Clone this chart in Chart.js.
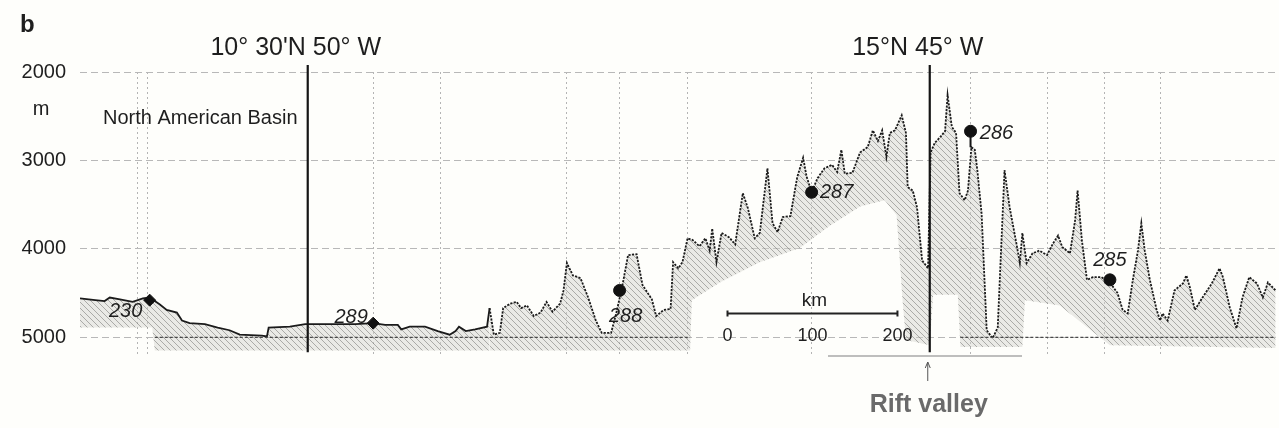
<!DOCTYPE html>
<html>
<head>
<meta charset="utf-8">
<script src="https://cdn.jsdelivr.net/npm/chart.js@4"></script>
<style>
  html, body { margin: 0; padding: 0; background: #fefefb; }
</style>
</head>
<body>
<canvas id="profileChart" width="1279" height="428"></canvas>
<script>
// bathymetric profile, distance along track (km) vs depth (m)
const distanceKm = [0, 18, 29, 35, 47, 62, 74, 82, 94, 102,
  114, 120, 129, 147, 162, 176, 188, 214, 220, 222,
  247, 265, 294, 324, 345, 359, 374, 378, 388, 406,
  421, 435, 442, 446, 454, 465, 479, 482, 487, 494,
  498, 506, 514, 519, 526, 534, 542, 549, 556, 565,
  569, 573, 580, 589, 598, 607, 614, 625, 631, 638,
  645, 655, 662, 673, 678, 687, 695, 698, 704, 709,
  715, 721, 729, 736, 741, 744, 749, 755, 764, 771,
  780, 786, 794, 800, 809, 815, 821, 827, 836, 844,
  851, 855, 861, 868, 876, 885, 891, 896, 900, 909,
  918, 927, 933, 939, 944, 949, 953, 959, 967, 972,
  974, 980, 985, 991, 998, 1001, 1006, 1012, 1018, 1021,
  1026, 1031, 1035, 1041, 1045, 1049, 1053, 1056, 1061, 1067,
  1074, 1080, 1088, 1094, 1102, 1106, 1109, 1114, 1121, 1129,
  1138, 1145, 1151, 1156, 1165, 1171, 1174, 1179, 1185, 1192,
  1202, 1212, 1221, 1227, 1233, 1239, 1245, 1249, 1253, 1259,
  1267, 1271, 1274, 1280, 1288, 1298, 1302, 1306, 1312, 1321,
  1332, 1341, 1345, 1353, 1361, 1368, 1376, 1385, 1392, 1398, 1407];
const depthM = [4560, 4580, 4590, 4550, 4570, 4600, 4560, 4550, 4630, 4690,
  4720, 4810, 4840, 4850, 4890, 4920, 4970, 4980, 4990, 4890,
  4880, 4850, 4850, 4850, 4840, 4860, 4860, 4910, 4880, 4880,
  4930, 4970, 4930, 4880, 4930, 4910, 4880, 4670, 4970, 4950,
  4670, 4620, 4600, 4670, 4640, 4760, 4720, 4600, 4710, 4620,
  4470, 4160, 4300, 4330, 4550, 4810, 4950, 4950, 4730, 4430,
  4070, 4060, 4410, 4570, 4760, 4690, 4680, 4150, 4220, 4150,
  3880, 3900, 3970, 3880, 4020, 3770, 4150, 3820, 3870, 3950,
  3370, 3540, 3880, 3820, 3090, 3710, 3810, 3640, 3630, 3190,
  2970, 3180, 3360, 3200, 3090, 3050, 3130, 2880, 3150, 3140,
  2910, 2850, 2660, 2780, 2660, 2960, 2690, 2660, 2490, 2690,
  3300, 3340, 3530, 4130, 4220, 2910, 2800, 2740, 2670, 2260,
  2620, 2690, 3370, 3450, 3340, 2850, 2880, 3110, 3600, 4920,
  5010, 4890, 3110, 3530, 3940, 4160, 3820, 4160, 4050, 4020,
  4070, 3940, 3850, 3980, 4050, 3680, 3340, 3900, 4350, 4320,
  4320, 4380, 4500, 4690, 4730, 4350, 4020, 3710, 4020, 4350,
  4690, 4810, 4730, 4810, 4470, 4390, 4300, 4430, 4690, 4550,
  4390, 4220, 4320, 4660, 4900, 4550, 4320, 4390, 4550, 4380, 4470];

// lower edge of the hatched sediment band
const shadeKm = [0, 85, 88, 718, 720, 753, 800, 847, 882, 918, 947, 961,
  968, 972, 1000, 1004, 1033, 1036, 1109, 1112, 1153, 1212, 1407];
const shadeDepth = [4890, 4890, 5150, 5150, 4580, 4380, 4150, 3990, 3740, 3520, 3450, 3620,
  4580, 5030, 5090, 4520, 4520, 5110, 5110, 4580, 4640, 5090, 5120];

// darker 5000 m reference line over the basins
const baseKm = [88, 718, 850, 1036, 1407];
const baseDepth = [5000, 5000, null, 5000, 5000];

// stations
const stationNames = ['230', '289', '288', '287', '286', '285'];
const stationKm = [82, 345, 635, 861, 1048, 1212];
const stationDepth = [4580, 4840, 4470, 3360, 2670, 4350];
const stemKm = [1048, 1048];
const stemDepth = [2670, 2850];

// meridians
const meridianKm = [268, 1000];
const meridianLabels = ["10° 30'N 50° W", '15°N 45° W'];
const meridianDepth = [1920, 5170];

// grid
const gridKm = [68, 79, 345, 424, 572, 635, 715, 861, 1048, 1138, 1206, 1271];
const yTicks = [2000, 3000, 4000, 5000];
const scaleBarKm = [0, 100, 200];

const FONT = 'Liberation Sans, Arial, sans-serif';
const dottedFromKm = 480;
const labelOffsets = [[-24, 11], [-22, -6], [6, 26], [25, 0], [26, 2], [0, -19]];

const ctx = document.getElementById('profileChart').getContext('2d');

function hatch() {
  const c = document.createElement('canvas');
  c.width = 6; c.height = 6;
  const g = c.getContext('2d');
  g.fillStyle = 'rgba(210,210,204,0.45)';
  g.fillRect(0, 0, 6, 6);
  g.strokeStyle = 'rgba(90,90,90,0.5)';
  g.lineWidth = 0.9;
  g.beginPath();
  g.moveTo(-1, -1); g.lineTo(7, 7);
  g.moveTo(-1, 5); g.lineTo(1, 7);
  g.moveTo(5, -1); g.lineTo(7, 1);
  g.stroke();
  return ctx.createPattern(c, 'repeat');
}

const pts = (xs, ys) => xs.map((x, i) => ({ x: x, y: ys[i] }));

const overlay = {
  id: 'overlay',
  beforeDraw(chart) {
    const c = chart.ctx;
    c.save();
    c.fillStyle = '#fefefb';
    c.fillRect(0, 0, chart.width, chart.height);
    c.restore();
  },
  afterDatasetsDraw(chart) {
    const c = chart.ctx;
    const xs = chart.scales.x, ys = chart.scales.y;
    c.save();
    c.fillStyle = '#1e1e1e';
    c.textBaseline = 'alphabetic';

    c.font = 'bold 24px ' + FONT;
    c.textAlign = 'left';
    c.fillText('b', 20, 32);

    c.font = '25px ' + FONT;
    c.textAlign = 'center';
    meridianLabels.forEach((t, i) => {
      c.fillText(t, xs.getPixelForValue(meridianKm[i]) - 12, 55);
    });

    c.font = '20px ' + FONT;
    c.fillText('m', 41, 115);
    c.textAlign = 'left';
    c.fillText('North American Basin', 103, 124);

    // station numbers
    const meta = chart.getDatasetMeta(chart.data.datasets.length - 1);
    c.font = 'italic 20px ' + FONT;
    c.textAlign = 'center';
    c.textBaseline = 'middle';
    meta.data.forEach((p, i) => {
      c.fillText(stationNames[i], p.x + labelOffsets[i][0], p.y + labelOffsets[i][1]);
    });

    // km scale bar
    const x0 = xs.getPixelForValue(762);
    const x1 = xs.getPixelForValue(762 + scaleBarKm[scaleBarKm.length - 1]);
    const yb = ys.getPixelForValue(4730);
    c.strokeStyle = '#222';
    c.lineWidth = 2;
    c.beginPath();
    c.moveTo(x0, yb); c.lineTo(x1, yb);
    c.moveTo(x0, yb - 3); c.lineTo(x0, yb + 3);
    c.moveTo(x1, yb - 3); c.lineTo(x1, yb + 3);
    c.stroke();
    c.font = '19px ' + FONT;
    c.fillText('km', (x0 + x1) / 2 + 2, yb - 13);
    c.font = '18px ' + FONT;
    scaleBarKm.forEach(v => {
      c.fillText(String(v), xs.getPixelForValue(762 + v), yb + 23);
    });

    // rift valley marker
    const xr = xs.getPixelForValue(meridianKm[1]) - 2;
    c.strokeStyle = '#a8a8a8';
    c.lineWidth = 1.5;
    c.beginPath();
    c.moveTo(828, 356); c.lineTo(1022, 356);
    c.stroke();
    c.strokeStyle = '#555';
    c.lineWidth = 1;
    c.beginPath();
    c.moveTo(xr, 381); c.lineTo(xr, 362);
    c.moveTo(xr - 2.5, 368); c.lineTo(xr, 362); c.lineTo(xr + 2.5, 368);
    c.stroke();
    c.font = 'bold 25px ' + FONT;
    c.fillStyle = '#6a6a6a';
    c.textBaseline = 'alphabetic';
    c.fillText('Rift valley', xr + 1, 412);
    c.restore();
  }
};

new Chart(ctx, {
  type: 'line',
  data: {
    datasets: [
      {
        data: pts(distanceKm, depthM),
        borderColor: '#1b1b1b',
        borderWidth: 1.8,
        pointRadius: 0,
        fill: '+1',
        backgroundColor: hatch(),
        order: 4,
        segment: {
          borderDash: c => c.p0.parsed.x >= dottedFromKm ? [2.2, 1.3] : undefined
        }
      },
      {
        data: pts(shadeKm, shadeDepth),
        borderColor: 'rgba(0,0,0,0)',
        borderWidth: 0,
        pointRadius: 0,
        fill: false,
        order: 5
      },
      {
        data: pts(baseKm, baseDepth),
        borderColor: '#4a4a4a',
        borderWidth: 1.3,
        borderDash: [3, 2],
        pointRadius: 0,
        spanGaps: false,
        order: 3
      },
      ...meridianKm.map(km => ({
        data: pts([km, km], meridianDepth),
        borderColor: '#151515',
        borderWidth: 2.2,
        pointRadius: 0,
        clip: false,
        order: 2
      })),
      {
        data: pts(stemKm, stemDepth),
        borderColor: '#151515',
        borderWidth: 2,
        pointRadius: 0,
        order: 1
      },
      {
        data: pts(stationKm, stationDepth),
        showLine: false,
        pointRadius: 6,
        pointStyle: c => (c.dataIndex < 2 ? 'rectRot' : 'circle'),
        backgroundColor: '#111',
        borderColor: '#111',
        clip: false,
        order: 0
      }
    ]
  },
  options: {
    responsive: false,
    animation: false,
    events: [],
    layout: { autoPadding: false, padding: { top: 72, bottom: 73, left: 0, right: 0 } },
    plugins: {
      legend: { display: false },
      tooltip: { enabled: false }
    },
    scales: {
      x: {
        type: 'linear',
        min: 0,
        max: 1411,
        afterBuildTicks: s => { s.ticks = gridKm.map(v => ({ value: v })); },
        afterFit: s => { s.height = 0; },
        ticks: { display: false },
        grid: { color: '#b4b4b4', lineWidth: 1, drawTicks: false },
        border: { display: false, dash: [2, 3] }
      },
      y: {
        type: 'linear',
        reverse: true,
        min: 2000,
        max: 5200,
        afterBuildTicks: s => { s.ticks = yTicks.map(v => ({ value: v })); },
        afterFit: s => { s.width = 80; },
        ticks: {
          padding: 14,
          color: '#1e1e1e',
          font: { family: FONT, size: 20 },
          callback: v => String(v)
        },
        grid: { color: '#b8b8b8', drawTicks: false },
        border: { display: false, dash: [7, 4] }
      }
    }
  },
  plugins: [overlay]
});
</script>
</body>
</html>
